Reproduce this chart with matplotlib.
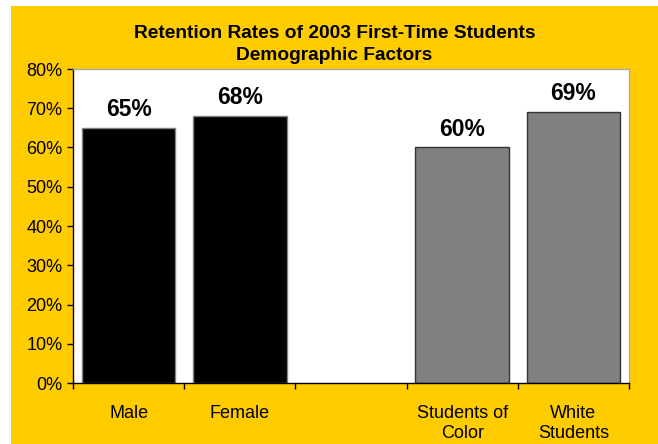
import numpy as np
import matplotlib
matplotlib.use("Agg")
import matplotlib.pyplot as plt
from matplotlib.patches import Rectangle
from matplotlib.ticker import FixedLocator, PercentFormatter

plt.rcParams['font.family'] = ['Liberation Sans', 'DejaVu Sans']

title_lines = ["Retention Rates of 2003 First-Time Students", "Demographic Factors"]
categories = ["Male", "Female", "", "Students of\nColor", "White\nStudents"]
values = [65, 68, None, 60, 69]
bar_colors = ["#000000", "#000000", None, "#808080", "#808080"]
edge_colors = ["#808080", "#808080", None, "#333333", "#333333"]

W, H = 658, 444
fig = plt.figure(figsize=(W / 100, H / 100), dpi=100, facecolor="white")
# gold panel, leaving the thin white margin at left and top
fig.patches.append(Rectangle((11 / W, 0), 1 - 11 / W, 1 - 6 / H,
                             transform=fig.transFigure, facecolor="#FFCC00",
                             edgecolor="none", zorder=-10))

ax = fig.add_axes([73 / W, 1 - 383 / H, (629 - 73) / W, (383 - 69) / H])
ax.set_facecolor("white")

for i, (v, c, e) in enumerate(zip(values, bar_colors, edge_colors)):
    if v is None:
        continue
    ax.bar(i, v, width=0.84, color=c, edgecolor=e, linewidth=1.0, zorder=2)
    ax.annotate(f"{v}%", (i, v), xytext=(0, 8.5), textcoords="offset points",
                ha="center", va="baseline", fontsize=16.5, fontweight="bold")

ax.set_xlim(-0.5, len(categories) - 0.5)
ax.set_ylim(0, 80)
ax.yaxis.set_major_locator(FixedLocator(np.arange(0, 81, 10)))
ax.yaxis.set_major_formatter(PercentFormatter(decimals=0))

# ticks at category boundaries, labels at centres
ax.set_xticks(np.arange(-0.5, len(categories)), labels=[""] * (len(categories) + 1))
ax.set_xticks(np.arange(len(categories)), labels=categories, minor=True)
for lbl in ax.get_xticklabels(minor=True):
    lbl.set_linespacing(1.25)
ax.tick_params(axis="x", which="minor", length=0, pad=16, labelsize=13)
ax.tick_params(axis="x", which="major", length=4.5, direction="out", width=1)
ax.tick_params(axis="y", length=4.5, direction="out", width=1, labelsize=13, pad=3)

for s in ["left", "bottom"]:
    ax.spines[s].set_color("black")
    ax.spines[s].set_linewidth(1)
for s in ["top", "right"]:
    ax.spines[s].set_color("#AAAAAA")
    ax.spines[s].set_linewidth(1)

fig.text(334.5 / W, 1 - 38 / H, title_lines[0], ha="center", va="baseline",
         fontsize=13.8, fontweight="bold")
fig.text(334.5 / W, 1 - 60 / H, title_lines[1], ha="center", va="baseline",
         fontsize=13.8, fontweight="bold")

fig.savefig("out.png", dpi=100, facecolor=fig.get_facecolor())
